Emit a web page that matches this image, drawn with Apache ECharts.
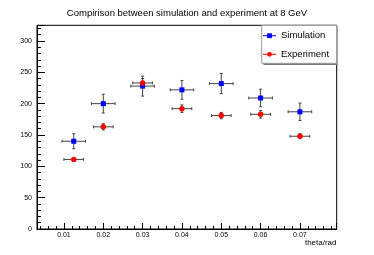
<!DOCTYPE html>
<html><head><meta charset="utf-8">
<script src="https://cdn.jsdelivr.net/npm/echarts@6/dist/echarts.min.js"></script>
<style>html,body{margin:0;padding:0;background:#fff}#c{width:374px;height:255px}</style>
</head><body><div id="c"></div>
<script>
const theta = [0.0125, 0.02, 0.03, 0.04, 0.05, 0.06, 0.07];
const simValues = [140, 200, 228, 222, 232, 209, 187];
const simErrY = [12, 15, 16, 15, 16, 14, 14];
const simErrX = [0.003, 0.003, 0.003, 0.003, 0.003, 0.003, 0.003];
const expValues = [111, 163, 233, 192, 181, 183, 148];
const expErrY = [3, 5, 7, 6, 5, 6, 4];
const expErrX = [0.0025, 0.0025, 0.0025, 0.0025, 0.0025, 0.0025, 0.0025];
const yTicks = [0, 50, 100, 150, 200, 250, 300];

const FONT = 'Liberation Sans, Arial, Helvetica, sans-serif';
const chart = echarts.init(document.getElementById('c'), null, {renderer: 'canvas'});

function errData(xs, ys, ex, ey) {
  return xs.map((x, i) => [x, ys[i], ex[i], ey[i]]);
}
function errRender(params, api) {
  const x = api.value(0), y = api.value(1), ex = api.value(2), ey = api.value(3);
  const l = api.coord([x - ex, y]), r = api.coord([x + ex, y]);
  const t = api.coord([x, y + ey]), b = api.coord([x, y - ey]);
  const st = {stroke: '#444', lineWidth: 1};
  const c = 1.5;
  return {type: 'group', children: [
    {type: 'line', shape: {x1: l[0], y1: l[1], x2: r[0], y2: r[1]}, style: st},
    {type: 'line', shape: {x1: t[0], y1: t[1], x2: b[0], y2: b[1]}, style: st},
    {type: 'line', shape: {x1: l[0], y1: l[1] - c, x2: l[0], y2: l[1] + c}, style: st},
    {type: 'line', shape: {x1: r[0], y1: r[1] - c, x2: r[0], y2: r[1] + c}, style: st},
    {type: 'line', shape: {x1: t[0] - c, y1: t[1], x2: t[0] + c, y2: t[1]}, style: st},
    {type: 'line', shape: {x1: b[0] - c, y1: b[1], x2: b[0] + c, y2: b[1]}, style: st}
  ]};
}

const option = {
  animation: false,
  backgroundColor: '#fff',
  title: {
    text: 'Compirison between simulation and experiment at 8 GeV',
    left: 'center', top: 3,
    textStyle: {fontFamily: FONT, fontSize: 9.5, fontWeight: 'normal', color: '#000'}
  },
  grid: {left: 37, right: 37.3, top: 25.3, bottom: 26, show: true, borderColor: '#000', borderWidth: 1, backgroundColor: 'transparent'},
  legend: {
    orient: 'vertical', left: 262.5, top: 29.7, z: 20, padding: 0,
    itemWidth: 13, itemHeight: 6, itemGap: 6.6,
    textStyle: {fontFamily: FONT, fontSize: 9.5, color: '#000', lineHeight: 12},
    lineStyle: {opacity: 1, width: 1},
    data: ['Simulation', 'Experiment']
  },
  xAxis: {
    type: 'value', min: 0.00315, max: 0.07935, splitNumber: 7,
    axisLine: {show: true, onZero: false, lineStyle: {color: '#000', width: 1}},
    axisTick: {show: true, inside: true, length: 6, lineStyle: {color: '#000'}},
    minorTick: {show: true, splitNumber: 5, length: 3, lineStyle: {color: '#000'}},
    splitLine: {show: false},
    axisLabel: {fontFamily: FONT, fontSize: 7, color: '#000', margin: 3, showMinLabel: false, showMaxLabel: false,
      formatter: v => v.toFixed(2)}
  },
  yAxis: {
    type: 'value', min: 0, max: 325, interval: 50,
    axisLine: {show: true, lineStyle: {color: '#000', width: 1}},
    axisTick: {show: true, inside: true, length: 8, lineStyle: {color: '#000'}},
    minorTick: {show: true, splitNumber: 5, length: 4, lineStyle: {color: '#000'}},
    splitLine: {show: false},
    axisLabel: {fontFamily: FONT, fontSize: 7, color: '#000', margin: 5, showMaxLabel: false,
      formatter: v => (yTicks.indexOf(v) >= 0 ? String(v) : '')}
  },
  graphic: [
    {type: 'rect', shape: {x: 263.5, y: 26.5, width: 74, height: 38.5}, style: {fill: '#777'}, z: 5},
    {type: 'rect', shape: {x: 261.7, y: 25.3, width: 75, height: 38}, style: {fill: '#fff', stroke: '#999', lineWidth: 1}, z: 6},
    {type: 'text', right: 374 - 336.5, top: 239,
      style: {text: 'theta/rad', fontFamily: FONT, fontSize: 8, fill: '#000', textAlign: 'right'}, z: 10}
  ],
  series: [
    {type: 'custom', name: 'simErr', renderItem: errRender, data: errData(theta, simValues, simErrX, simErrY), z: 2, silent: true,
      encode: {x: 0, y: 1}},
    {type: 'custom', name: 'expErr', renderItem: errRender, data: errData(theta, expValues, expErrX, expErrY), z: 2, silent: true,
      encode: {x: 0, y: 1}},
    {type: 'line', name: 'Simulation', data: theta.map((x, i) => [x, simValues[i]]),
      symbol: 'rect', symbolSize: 5, showSymbol: true, color: '#0000ff',
      itemStyle: {color: '#0000ff'}, lineStyle: {opacity: 0, color: '#0000ff'}, z: 5},
    {type: 'line', name: 'Experiment', data: theta.map((x, i) => [x, expValues[i]]),
      symbol: 'circle', symbolSize: 5.5, showSymbol: true, color: '#ff0000',
      itemStyle: {color: '#ff0000'}, lineStyle: {opacity: 0, color: '#ff0000'}, z: 5}
  ]
};
chart.setOption(option);
</script></body></html>
